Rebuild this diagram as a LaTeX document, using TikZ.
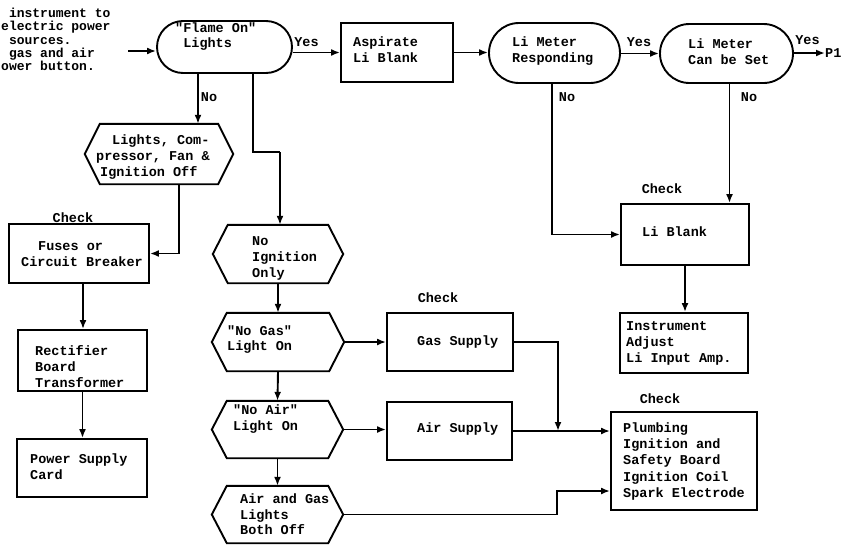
\documentclass[tikz,border=0pt]{standalone}
\usepackage{fontspec}
\newfontfamily\tw{Liberation Mono}
\usetikzlibrary{arrows.meta}
\tikzset{
  ln/.style={line width=1.9pt, line join=miter},
  arr/.style={ln, -{Latex[length=9pt,width=7pt]}},
  boxn/.style={ln, draw, inner sep=0pt, minimum width=#1},
  stad/.style={ln, draw, inner sep=0pt, rounded corners=#1},
  hexn/.style={inner sep=0pt},
  txt/.style={font={\tw\bfseries\fontsize{13.5}{16}\selectfont}, align=left, inner sep=0pt, anchor=west},
  lbl/.style={font={\tw\bfseries\fontsize{13.5}{16}\selectfont}, inner sep=0pt}
}
\newcommand\drawhex[1]{\draw[ln] (#1.west) -- ([xshift=15pt]#1.north west) -- ([xshift=-15pt]#1.north east) -- (#1.east) -- ([xshift=-15pt]#1.south east) -- ([xshift=15pt]#1.south west) -- cycle;}
\begin{document}
\begin{tikzpicture}[x=1pt,y=-1pt]
\useasboundingbox (0,0) rectangle (841,544);
\fill[white] (0,0) rectangle (841,544);

% top-left note
\node[txt, anchor=north west, font={\tw\bfseries\fontsize{13}{13.3}\selectfont}] (note) at (1,8)
  {~instrument to\\electric power\\~sources.\\~gas and air\\ower button.};

% top row
\node[stad=26pt, minimum width=135pt, minimum height=52pt] (flame) at (224.5,47) {};
\node[txt, font={\tw\bfseries\fontsize{13.5}{15}\selectfont}] (tflame) at (175,36.5) {"Flame On"\\~Lights};
\node[boxn=112pt, minimum height=59pt] (asp) at (397,52.5) {};
\node[txt] (tasp) at (353,50) {Aspirate\\Li Blank};
\node[stad=30pt, minimum width=131pt, minimum height=60pt] (resp) at (554.5,53) {};
\node[txt] (tresp) at (512,51.5) {Li Meter\\Responding};
\node[stad=29.5pt, minimum width=133pt, minimum height=59pt] (canset) at (726.5,53.5) {};
\node[txt] (tcanset) at (688,51.5) {Li Meter\\Can be Set};
\node[lbl, anchor=west] (p1) at (825,53) {P1};

\coordinate (start) at (128,51);
\draw[arr] (start) -- (start -| flame.west);
\draw[arr] (flame.east |- asp.west) -- (asp.west);
\draw[arr] (asp.east) -- (asp.east -| resp.west);
\draw[arr] (resp.east |- canset.west) -- (canset.west);
\draw[arr] (canset.east |- p1.west) -- (p1.west);
\node[lbl] (y1) at (306.5,42) {Yes};
\node[lbl] (y2) at (639,42) {Yes};
\node[lbl] (y3) at (807.5,40) {Yes};

% left branch
\node[hexn, minimum width=148pt, minimum height=60pt] (lights) at (159,154) {};
\drawhex{lights}
\node[txt] (tlights) at (96,157) {\hspace*{16pt}Lights, Com-\\pressor, Fan \&\\\hspace*{4pt}Ignition Off};
\draw[arr] ([xshift=-26.5pt]flame.south) -- ([xshift=-26.5pt]flame.south |- lights.north);
\node[lbl] (no1) at (209,97) {No};

\node[boxn=140pt, minimum height=59pt] (fuses) at (79,253.5) {};
\node[txt] (tfuses) at (21,254.5) {\hspace*{17pt}Fuses or\\Circuit Breaker};
\node[lbl] (ck1) at (73,218) {Check};
\draw[arr] ([xshift=20pt]lights.south) |- (fuses.east);

\node[boxn=129pt, minimum height=61pt] (rect) at (82.5,360.5) {};
\node[txt] (trect) at (35,367) {Rectifier\\Board\\Transformer};
\draw[arr] ([xshift=4pt]fuses.south) -- ([xshift=4pt]fuses.south |- rect.north);

\node[boxn=130pt, minimum height=58pt] (power) at (82,468) {};
\node[txt] (tpower) at (30,467) {Power Supply\\Card};
\draw[arr] (rect.south) -- (rect.south |- power.north);

% middle column
\node[hexn, minimum width=130pt, minimum height=58pt] (noign) at (278,254) {};
\drawhex{noign}
\node[txt] (tnoign) at (252,258) {No\\Ignition\\Only};
\coordinate (bend1) at (253,152);
\coordinate (bend2) at (280,152);
\draw[ln] ([xshift=28.5pt]flame.south) -- (bend1) -- (bend2);
\draw[arr] (bend2) -- (bend2 |- noign.north);

\node[hexn, minimum width=132pt, minimum height=58pt] (nogas) at (278,342) {};
\drawhex{nogas}
\node[txt, font={\tw\bfseries\fontsize{13.5}{15}\selectfont}] (tnogas) at (227,339.5) {"No Gas"\\Light On};
\draw[arr] (noign.south) -- (nogas.north);

\node[hexn, minimum width=131pt, minimum height=57pt] (noair) at (277.5,429.5) {};
\drawhex{noair}
\node[txt] (tnoair) at (233,419) {"No Air"\\Light On};
\draw[arr] (nogas.south) -- (noair.north);

\node[hexn, minimum width=131pt, minimum height=57pt] (both) at (277.5,514.5) {};
\drawhex{both}
\node[txt, font={\tw\bfseries\fontsize{13.5}{15.5}\selectfont}] (tboth) at (240,514.5) {Air and Gas\\Lights\\Both Off};
\draw[arr] (noair.south) -- (both.north);

% supplies
\node[boxn=126pt, minimum height=58pt] (gas) at (450,342) {};
\node[txt] (tgas) at (417,342) {Gas Supply};
\node[lbl] (ck2) at (438,298) {Check};
\draw[arr] (nogas.east) -- (nogas.east -| gas.west);

\node[boxn=125pt, minimum height=58pt] (air) at (449.5,431) {};
\node[txt] (tair) at (417,429) {Air Supply};
\draw[arr] (noair.east) -- (noair.east -| air.west);

% right column
\node[boxn=146pt, minimum height=98pt] (plumb) at (684,461) {};
\node[txt, font={\tw\bfseries\fontsize{13.5}{16.25}\selectfont}] (tplumb) at (623,461.5) {Plumbing\\Ignition and\\Safety Board\\Ignition Coil\\Spark Electrode};
\node[lbl] (ck4) at (660,399) {Check};

\coordinate (j) at (558,431);
\draw[arr] (gas.east) -| (j);
\draw[arr] (air.east) -- (air.east -| plumb.west);
\coordinate (k) at (557,491);
\draw[arr] (both.east) -| (k) -- (k -| plumb.west);

\node[boxn=128pt, minimum height=61pt] (libl) at (685,234.5) {};
\node[txt] (tlibl) at (642,232) {Li Blank};
\node[lbl] (ck3) at (662,189) {Check};
\draw[arr] ([xshift=-2.5pt]resp.south) |- (libl.west);
\draw[arr] ([xshift=3pt]canset.south) -- ([xshift=3pt]canset.south |- libl.north);
\node[lbl] (no2) at (567,97) {No};
\node[lbl] (no3) at (749,97) {No};

\node[boxn=128pt, minimum height=60pt] (instr) at (684,343) {};
\node[txt] (tinstr) at (626,343) {Instrument\\Adjust\\Li Input Amp.};
\draw[arr] (libl.south) -- (libl.south |- instr.north);
\end{tikzpicture}
\end{document}
